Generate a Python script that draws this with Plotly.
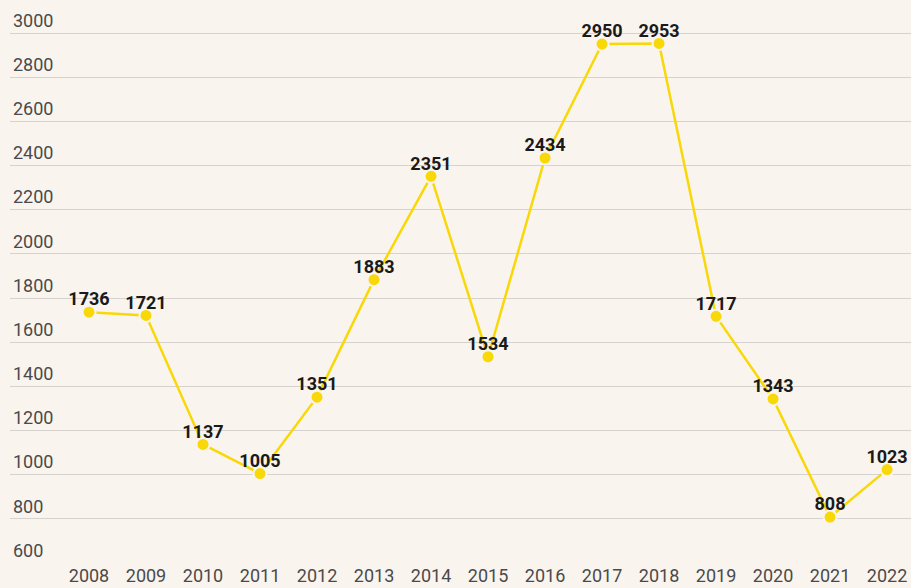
import plotly.graph_objects as go

years = [2008, 2009, 2010, 2011, 2012, 2013, 2014, 2015, 2016, 2017, 2018, 2019, 2020, 2021, 2022]
values = [1736, 1721, 1137, 1005, 1351, 1883, 2351, 1534, 2434, 2950, 2953, 1717, 1343, 808, 1023]
y_ticks = [600, 800, 1000, 1200, 1400, 1600, 1800, 2000, 2200, 2400, 2600, 2800, 3000]

bg = "#faf4ee"
yellow = "#f8d808"

fig = go.Figure()
fig.add_trace(go.Scatter(
    x=years, y=values, mode="lines+markers",
    line=dict(color=yellow, width=2.5),
    marker=dict(color=yellow, size=13, line=dict(color=bg, width=2)),
    hoverinfo="skip",
))
fig.add_trace(go.Scatter(
    x=years, y=values, mode="markers+text",
    text=[str(v) for v in values], textposition="top center",
    textfont=dict(family="Roboto", size=18, color="#1a1a1a", weight="bold"),
    marker=dict(size=2, color="rgba(0,0,0,0)"),
    cliponaxis=False, hoverinfo="skip",
))

fig.update_layout(
    width=911, height=588,
    paper_bgcolor=bg, plot_bgcolor=bg,
    margin=dict(l=10, r=0, t=0, b=25),
    showlegend=False,
    font=dict(family="Roboto", size=18, color="#4a4a4a"),
    xaxis=dict(
        range=[2006.614, 2022.42], tickvals=years, ticktext=[str(y) for y in years],
        showgrid=False, zeroline=False, showline=False, ticks="",
        tickfont=dict(family="Roboto", size=18, color="#4a4a4a"),
    ),
    yaxis=dict(
        range=[600, 3149.5], tickvals=y_ticks, ticktext=[str(t) for t in y_ticks],
        ticklabelposition="inside top", showgrid=True, gridcolor="#d6d2cd", gridwidth=1.3,
        zeroline=False, showline=False, ticks="",
        tickfont=dict(family="Roboto", size=18, color="#4a4a4a"),
    ),
)

fig.write_html(
    "out.html",
    config={"displayModeBar": False},
    post_script="document.body.style.margin='0';document.body.style.padding='0';document.body.style.overflow='hidden';",
)
